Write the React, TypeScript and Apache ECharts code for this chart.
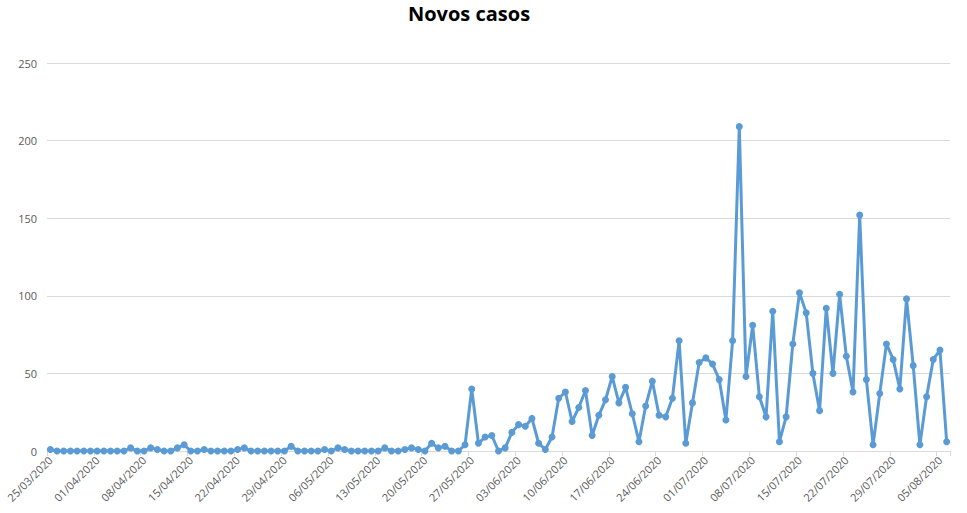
import React, { useEffect, useRef } from "react";
import * as echarts from "echarts";

const titleText = "Novos casos";
const startDate = { y: 2020, m: 3, d: 25 };
const dayCount = 135;

const newCases = [
  1, 0, 0, 0, 0, 0, 0, 0, 0, 0, 0, 0, 2, 0, 0, 2, 1, 0, 0, 2,
  4, 0, 0, 1, 0, 0, 0, 0, 1, 2, 0, 0, 0, 0, 0, 0, 3, 0, 0, 0,
  0, 1, 0, 2, 1, 0, 0, 0, 0, 0, 2, 0, 0, 1, 2, 1, 0, 5, 2, 3,
  0, 0, 4, 40, 5, 9, 10, 0, 2, 12, 17, 16, 21, 5, 1, 9, 34, 38, 19, 28,
  39, 10, 23, 33, 48, 31, 41, 24, 6, 29, 45, 23, 22, 34, 71, 5, 31, 57, 60, 56,
  46, 20, 71, 209, 48, 81, 35, 22, 90, 6, 22, 69, 102, 89, 50, 26, 92, 50, 101, 61,
  38, 152, 46, 4, 37, 69, 59, 40, 98, 55, 4, 35, 59, 65, 6,
];

const yTicks = [0, 50, 100, 150, 200, 250];

function buildDates(): string[] {
  const out: string[] = [];
  const base = new Date(Date.UTC(startDate.y, startDate.m - 1, startDate.d));
  for (let i = 0; i < dayCount; i++) {
    const dt = new Date(base.getTime() + i * 86400000);
    const dd = String(dt.getUTCDate()).padStart(2, "0");
    const mm = String(dt.getUTCMonth() + 1).padStart(2, "0");
    out.push(`${dd}/${mm}/${dt.getUTCFullYear()}`);
  }
  return out;
}

const dates = buildDates();

export default function App() {
  const ref = useRef<HTMLDivElement>(null);
  useEffect(() => {
    if (!ref.current) return;
    const chart = echarts.init(ref.current, undefined, { renderer: "svg" });
    chart.setOption({
      animation: false,
      backgroundColor: "#ffffff",
      title: {
        text: titleText,
        left: 469,
        top: 3,
        padding: 0,
        textAlign: "center",
        textStyle: {
          fontFamily: "Open Sans",
          fontSize: 20,
          fontWeight: "bold",
          color: "#000000",
        },
      },
      grid: { left: 47, right: 17, top: 63, bottom: 62, containLabel: false },
      xAxis: {
        type: "category",
        data: dates,
        boundaryGap: true,
        axisLine: { show: true, lineStyle: { color: "#d9d9d9", width: 1 } },
        axisTick: { show: true, interval: 6, length: 5, lineStyle: { color: "#d9d9d9" } },
        axisLabel: {
          interval: 6,
          rotate: 45,
          color: "#595959",
          fontFamily: "Open Sans",
          fontSize: 11,
          margin: 7,
        },
        splitLine: { show: false },
      },
      yAxis: {
        type: "value",
        min: yTicks[0],
        max: yTicks[yTicks.length - 1],
        interval: 50,
        axisLine: { show: false },
        axisTick: { show: false },
        axisLabel: {
          color: "#595959",
          fontFamily: "Open Sans",
          fontSize: 11,
          margin: 10,
        },
        splitLine: { show: true, lineStyle: { color: "#d9d9d9", width: 1 } },
      },
      series: [
        {
          type: "line",
          data: newCases,
          symbol: "circle",
          symbolSize: 7,
          showSymbol: true,
          showAllSymbol: true,
          lineStyle: { color: "#5B9BD5", width: 3 },
          itemStyle: { color: "#5B9BD5" },
        },
      ],
    });
    return () => chart.dispose();
  }, []);
  return (
    <div
      ref={ref}
      style={{ position: "absolute", left: 0, top: 0, width: 967, height: 513 }}
    />
  );
}
